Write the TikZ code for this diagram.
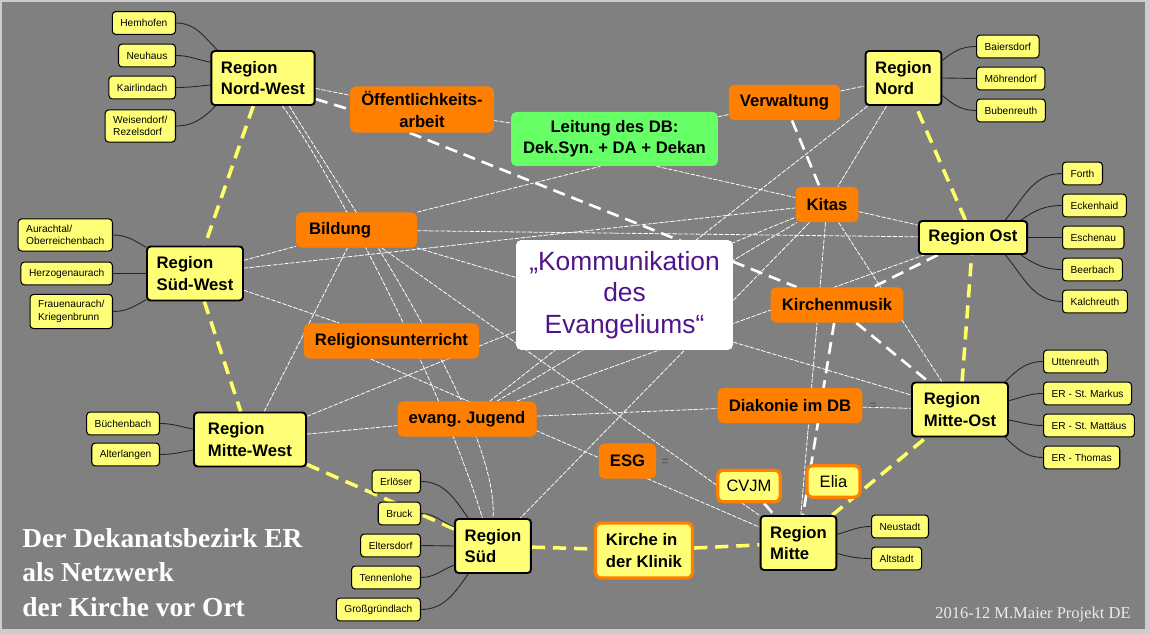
\documentclass[tikz,border=0pt]{standalone}
\usepackage{fontspec}
\setmainfont{Liberation Sans}
\newfontfamily\serifx{Liberation Serif}
\usetikzlibrary{positioning, calc, backgrounds}
\frenchspacing
\definecolor{cBack}{RGB}{128,128,128}
\definecolor{cFrame}{RGB}{205,205,205}
\definecolor{cYellow}{RGB}{255,255,119}
\definecolor{cRing}{RGB}{255,255,102}
\definecolor{cOrange}{RGB}{255,128,0}
\definecolor{cGreen}{RGB}{102,255,102}
\definecolor{cPurple}{RGB}{80,20,140}
\definecolor{cMark}{RGB}{95,95,95}
\tikzset{
  %% region nodes (yellow, black frame)
  region/.style={rectangle, rounded corners=2pt, draw=black, line width=1.1pt,
                 fill=cYellow, font=\fontsize{9.5}{12}\selectfont\bfseries,
                 align=left, inner xsep=5.5pt, inner ysep=4pt,
                 minimum height=1.08cm},
  %% parishes
  village/.style={rectangle, rounded corners=2pt, draw=black, line width=0.6pt,
                  fill=cYellow, font=\fontsize{5.8}{7.2}\selectfont,
                  align=left, inner xsep=4.6pt, inner ysep=3.4pt,
                  minimum height=13pt},
  %% fields of work
  topic/.style={rectangle, rounded corners=3pt, fill=cOrange,
                font=\fontsize{9.5}{12}\selectfont\bfseries, align=center,
                inner xsep=6.3pt, inner ysep=3pt, minimum height=20pt},
  extra/.style={rectangle, rounded corners=3pt, draw=cOrange, line width=1.8pt,
                fill=cYellow, font=\fontsize{9.4}{12}\selectfont, align=left,
                inner xsep=5pt, minimum height=18pt},
  leitung/.style={topic, fill=cGreen, minimum width=4.14cm, minimum height=1.08cm},
  core/.style={rectangle, rounded corners=3pt, fill=white, text=cPurple,
               font=\fontsize{15}{18}\selectfont, align=center,
               minimum width=4.34cm, minimum height=2.2cm},
  %% connectors
  link/.style={draw=white, line width=0.45pt, dash pattern=on 2.5pt off 0.8pt},
  tie/.style={draw=white, line width=1.5pt, dash pattern=on 7pt off 4pt},
  ring/.style={draw=cRing, line width=2pt, dash pattern=on 7.5pt off 4.5pt},
  twig/.style={draw=black!85, line width=0.5pt},
  foldmark/.style={text=cMark, font=\fontsize{7}{8}\selectfont\bfseries},
}

\begin{document}
\begin{tikzpicture}[x=0.02cm, y=-0.02cm]
\useasboundingbox (0,0) rectangle (1150,634);

%% =============================================================
%%  REGIONS
%% =============================================================
\node[region] (RNW) at (263,78)    {Region\\Nord-West};
\node[region] (RN)  at (903.5,78)  {Region\\Nord};
\node[region, minimum height=0.66cm] (ROst) at (973,237.5) {Region Ost};
\node[region] (RSW) at (195,273.5) {Region\\Süd-West};
\node[region, minimum width=2.24cm] (RMW) at (250,439.5) {Region\\Mitte-West};
\node[region, minimum width=1.92cm] (RMO) at (960,409.5) {Region\\Mitte-Ost};
\node[region] (RS)  at (493,546)   {Region\\Süd};
\node[region] (RM)  at (798.5,543) {Region\\Mitte};

%% --- parishes Nord-West ---
\node[village, anchor=east] (NW1) at (176,23)    {Hemhofen};
\node[village, anchor=east] (NW2) at (176,55.5)  {Neuhaus};
\node[village, anchor=east] (NW3) at (176,87.5)  {Kairlindach};
\node[village, anchor=east] (NW4) at (176,126)   {Weisendorf/\\Rezelsdorf};

%% --- parishes Nord ---
\node[village, anchor=west] (N1) at (976,46.5)  {Baiersdorf};
\node[village, anchor=west] (N2) at (976,78.5)  {Möhrendorf};
\node[village, anchor=west] (N3) at (976,110.5) {Bubenreuth};

%% --- parishes Ost ---
\node[village, anchor=west] (O1) at (1062,173.5) {Forth};
\node[village, anchor=west] (O2) at (1062,205.5) {Eckenhaid};
\node[village, anchor=west] (O3) at (1062,237.5) {Eschenau};
\node[village, anchor=west] (O4) at (1062,269.5) {Beerbach};
\node[village, anchor=west] (O5) at (1062,301.5) {Kalchreuth};

%% --- parishes Süd-West ---
\node[village, anchor=east] (SW1) at (113,235)   {Aurachtal/\\Oberreichenbach};
\node[village, anchor=east] (SW2) at (113,273.5) {Herzogenaurach};
\node[village, anchor=east] (SW3) at (113,311.5) {Frauenaurach/\\Kriegenbrunn};

%% --- parishes Mitte-West ---
\node[village, anchor=east] (MW1) at (160,423.5) {Büchenbach};
\node[village, anchor=east] (MW2) at (160,454.5) {Alterlangen};

%% --- parishes Mitte-Ost ---
\node[village, anchor=west] (MO1) at (1043,361.5) {Uttenreuth};
\node[village, anchor=west] (MO2) at (1043,393.5) {ER - St. Markus};
\node[village, anchor=west] (MO3) at (1043,425.5) {ER - St. Mattäus};
\node[village, anchor=west] (MO4) at (1043,457.5) {ER - Thomas};

%% --- parishes Süd ---
\node[village, anchor=east] (S1) at (421,481.5) {Erlöser};
\node[village, anchor=east] (S2) at (421,513.5) {Bruck};
\node[village, anchor=east] (S3) at (421,545.5) {Eltersdorf};
\node[village, anchor=east] (S4) at (421,577.5) {Tennenlohe};
\node[village, anchor=east] (S5) at (421,609.5) {Großgründlach};

%% --- parishes Mitte ---
\node[village, anchor=west] (M1) at (871,526.5) {Neustadt};
\node[village, anchor=west] (M2) at (871,558.5) {Altstadt};

%% =============================================================
%%  FIELDS OF WORK
%% =============================================================
\node[topic] (Oeff) at (422,109.5)   {Öffentlichkeits-\\arbeit};
\node[topic] (Verw) at (784.5,102.5) {Verwaltung};
\node[topic] (Kita) at (827,204.5)   {Kitas};
\node[topic, minimum width=2.42cm, align=left, text width=1.9cm] (Bild) at (356.5,230) {Bildung};
\node[topic] (Musik) at (837,305)    {Kirchenmusik};
\node[topic] (Reli) at (391.5,341)   {Religionsunterricht};
\node[topic] (Jug)  at (467,419)     {evang. Jugend};
\node[topic] (Diak) at (790,405.5)   {Diakonie im DB};
\node[topic] (ESG)  at (627.5,461)   {ESG};
\node[leitung] (Leit) at (614.5,139) {Leitung des DB:\\Dek.Syn. + DA + Dekan};
\node[core] (Core) at (624.5,295) {„Kommunikation\\des\\Evangeliums“};

\node[extra] (CVJM) at (749,486) {CVJM};
\node[extra, minimum width=1.06cm] (Elia) at (833.5,481.5) {Elia};
\node[extra, font=\fontsize{9.5}{12}\selectfont\bfseries, minimum height=1.1cm,
      inner xsep=6pt] (Klinik) at (644,550.5) {Kirche in\\der Klinik};

%% -- collapse marks --
\node[foldmark] (mESG)  at (665,462) {=};
\node[foldmark] (mDiak) at (873,406) {=};

%% -- title and footer --
\node[anchor=north west, inner sep=0pt, align=left, text=white,
      font=\serifx\bfseries\fontsize{15.6}{19.6}\selectfont] (Title) at (22,528)
  {Der Dekanatsbezirk ER\\als Netzwerk\\der Kirche vor Ort};
\node[anchor=base east, inner sep=0pt, text=white!92!black,
      font=\serifx\fontsize{9.4}{11}\selectfont] (Foot) at (1131,619)
  {2016-12 M.Maier Projekt DE};

%% =============================================================
%%  CONNECTORS (behind the nodes)
%% =============================================================
\begin{scope}[on background layer]
\fill[cFrame] (0,0) rectangle (1150,634);
\fill[cBack] (2,2) rectangle (1145,629);

%% -- thin links --
\draw[link] (RNW) -- (Oeff);
\draw[link] (Oeff) -- (Leit);
\draw[link] (Leit) -- (Verw);
\draw[link] (Verw) -- (RN);
\draw[link] ([xshift=24pt]Leit.south) -- ([yshift=4pt]Kita.west);
\draw[link] (Bild.north east) -- ([xshift=-8pt]Leit.south);
\draw[link] (Bild) -- (ROst);
\draw[link] (Bild) -- (RMO);
\draw[link] (Bild) -- (RM);
\draw[link] (RSW) -- (Bild);
\draw[link] (RSW) -- (Kita);
\draw[link] (RSW) -- (Reli);
\draw[link] (RMW) -- (Bild);
\draw[link] (RMW) -- (Jug);
\draw[link] (RMW) -- (Kita);
\draw[link] (Jug) -- (Diak);
\draw[link] (Diak) -- (RMO);
\draw[link] (Jug) -- (Kita);
\draw[link] (Jug) -- (ROst);
\draw[link] (RN) -- (Jug);
\draw[link] (RN) -- (Kita);
\draw[link] (Kita) -- (ROst);
\draw[link] (Kita) -- (RMO);
\draw[link] (Kita) -- (RM);
\draw[link] (Kita) -- (RS);
\draw[link] ([xshift=-12pt]Reli.south) -- ([yshift=9pt]RM.west);
\draw[link] ([xshift=11pt]RNW.south) .. controls (330,170) and (440,380) .. ([xshift=-6pt]RS.north);
\draw[link] ([xshift=15pt]RNW.south) .. controls (340,190) and (500,420) .. (RS.north);

%% -- strong ties (white, dashed) --
\draw[tie] ([yshift=-12pt]RNW.east) -- (Oeff.west);
\draw[tie] ([xshift=-7pt]Oeff.south) -- ([xshift=-23pt]Musik.north);
\draw[tie] ([xshift=11pt]Musik.south) -- ([xshift=-18pt]RMO.north);
\draw[tie] (Verw) -- (Kita);
\draw[tie] (Musik) -- (RM);
\draw[tie] (CVJM) -- (RM);
\draw[tie] (ROst) -- (Musik);

%% -- ring of the regions (yellow) --
\draw[ring] (RNW) -- (RSW);
\draw[ring] (RSW) -- (RMW);
\draw[ring] (RMW) -- (RS);
\draw[ring] (RS) -- (Klinik);
\draw[ring] (Klinik) -- (RM);
\draw[ring] (RM) -- (RMO);
\draw[ring] (RMO) -- (ROst);
\draw[ring] (ROst) -- (RN);

%% -- parishes to their region --
\draw[twig] (NW1.east) to[out=0,in=135] ([xshift=4pt]RNW.north west);
\draw[twig] (NW2.east) to[out=0,in=170] ([yshift=9pt]RNW.west);
\draw[twig] (NW3.east) to[out=0,in=185] ([yshift=-4pt]RNW.west);
\draw[twig] (NW4.east) to[out=0,in=-135] ([xshift=3pt]RNW.south west);

\draw[twig] ([yshift=10pt]RN.east) to[out=40,in=180] (N1.west);
\draw[twig] (RN.east) -- (N2.west);
\draw[twig] ([yshift=-10pt]RN.east) to[out=-40,in=180] (N3.west);

\draw[twig] ([xshift=-13pt]ROst.north east) to[out=50,in=180] (O1.west);
\draw[twig] ([xshift=-4pt]ROst.north east) to[out=35,in=180] (O2.west);
\draw[twig] (ROst.east) -- (O3.west);
\draw[twig] ([xshift=-4pt]ROst.south east) to[out=-35,in=180] (O4.west);
\draw[twig] ([xshift=-13pt]ROst.south east) to[out=-50,in=180] (O5.west);

\draw[twig] ([xshift=-2pt]RMO.north east) to[out=45,in=180] (MO1.west);
\draw[twig] ([yshift=5pt]RMO.east) to[out=15,in=180] (MO2.west);
\draw[twig] ([yshift=-6pt]RMO.east) to[out=-10,in=180] (MO3.west);
\draw[twig] ([xshift=-2pt]RMO.south east) to[out=-45,in=180] (MO4.west);

\draw[twig] ([yshift=5pt]RM.east) to[out=15,in=180] (M1.west);
\draw[twig] ([yshift=-6pt]RM.east) to[out=-15,in=180] (M2.west);

\draw[twig] (SW1.east) to[out=0,in=150] ([yshift=-1pt]RSW.north west);
\draw[twig] (SW2.east) -- (RSW.west);
\draw[twig] (SW3.east) to[out=0,in=-150] ([yshift=1pt]RSW.south west);

\draw[twig] (MW1.east) to[out=0,in=170] ([yshift=6pt]RMW.west);
\draw[twig] (MW2.east) to[out=0,in=190] ([yshift=-6pt]RMW.west);

\draw[twig] (S1.east) to[out=0,in=125] ([xshift=8pt]RS.north west);
\draw[twig] (S2.east) to[out=0,in=160] ([yshift=-5pt]RS.north west);
\draw[twig] (S3.east) -- (RS.west);
\draw[twig] (S4.east) to[out=0,in=200] ([yshift=5pt]RS.south west);
\draw[twig] (S5.east) to[out=0,in=-125] ([xshift=8pt]RS.south west);
\end{scope}

\end{tikzpicture}
\end{document}
